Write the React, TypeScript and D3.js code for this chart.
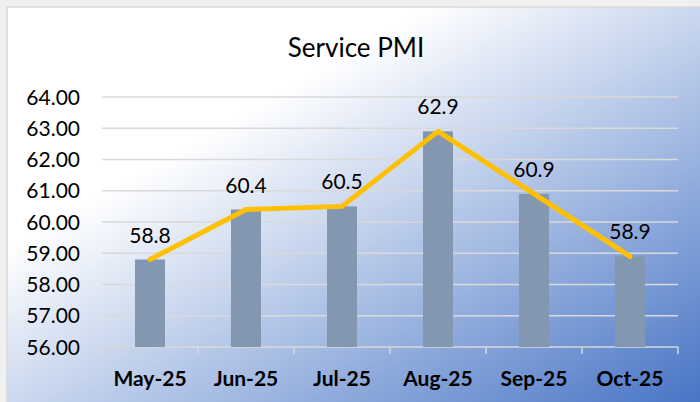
import React from "react";
import * as d3 from "d3";

const categories = ["May-25", "Jun-25", "Jul-25", "Aug-25", "Sep-25", "Oct-25"];
const pmiValues = [58.8, 60.4, 60.5, 62.9, 60.9, 58.9];
const yTicks = [56, 57, 58, 59, 60, 61, 62, 63, 64];
const title = "Service PMI";

const W = 700;
const H = 402;
const FONT = "Lato, 'Open Sans', sans-serif";

export default function App() {
  const x = d3.scaleBand<string>().domain(categories).range([102, 678]).padding(0);
  const y = d3.scaleLinear().domain([56, 64]).range([347, 97]);
  const barW = 30;
  const cx = (c: string) => (x(c) as number) + x.bandwidth() / 2;

  const line = d3
    .line<number>()
    .x((_, i) => cx(categories[i]))
    .y((d) => y(d));

  return (
    <div style={{ position: "fixed", left: 0, top: 0, width: W, height: H }}>
      <svg width={W} height={H} style={{ display: "block" }}>
        <defs>
          <linearGradient id="bg" x1="0" y1="0" x2="1" y2="1">
            <stop offset="0" stopColor="#ffffff" />
            <stop offset="0.3" stopColor="#ffffff" />
            <stop offset="1" stopColor="#4472c4" />
          </linearGradient>
        </defs>
        <rect x={0} y={0} width={W} height={H} fill="#f0f0f0" />
        <rect x={7} y={7} width={W} height={H} fill="url(#bg)" stroke="#d9d9d9" strokeWidth={1.5} />
        <text x={356} y={57} textAnchor="middle" fontFamily={FONT} fontSize={26} fill="#000">
          {title}
        </text>
        {yTicks.map((t) => (
          <g key={t}>
            <line x1={102} x2={678} y1={y(t)} y2={y(t)} stroke="#d9d9d9" strokeWidth={1.5} />
            <text
              x={80}
              y={y(t)}
              dy="0.36em"
              textAnchor="end"
              fontFamily={FONT}
              fontSize={21}
              fill="#000"
            >
              {t.toFixed(2)}
            </text>
          </g>
        ))}
        {[...categories.map((c) => x(c) as number), 678].map((tx, i) => (
          <line key={i} x1={tx} x2={tx} y1={y(56)} y2={y(56) + 7} stroke="#d9d9d9" strokeWidth={1.5} />
        ))}
        {categories.map((c, i) => (
          <rect
            key={c}
            x={cx(c) - barW / 2}
            y={y(pmiValues[i])}
            width={barW}
            height={y(56) - y(pmiValues[i])}
            fill="#8497b0"
          />
        ))}
        <path
          d={line(pmiValues) as string}
          fill="none"
          stroke="#ffc000"
          strokeWidth={5}
          strokeLinecap="round"
          strokeLinejoin="round"
        />
        {categories.map((c, i) => (
          <text
            key={c}
            x={cx(c)}
            y={y(pmiValues[i]) - 17}
            textAnchor="middle"
            fontFamily={FONT}
            fontSize={21}
            fill="#000"
          >
            {pmiValues[i].toFixed(1)}
          </text>
        ))}
        {categories.map((c) => (
          <text
            key={c}
            x={cx(c)}
            y={386}
            textAnchor="middle"
            fontFamily={FONT}
            fontSize={21}
            fontWeight="bold"
            fill="#000"
          >
            {c}
          </text>
        ))}
      </svg>
    </div>
  );
}
